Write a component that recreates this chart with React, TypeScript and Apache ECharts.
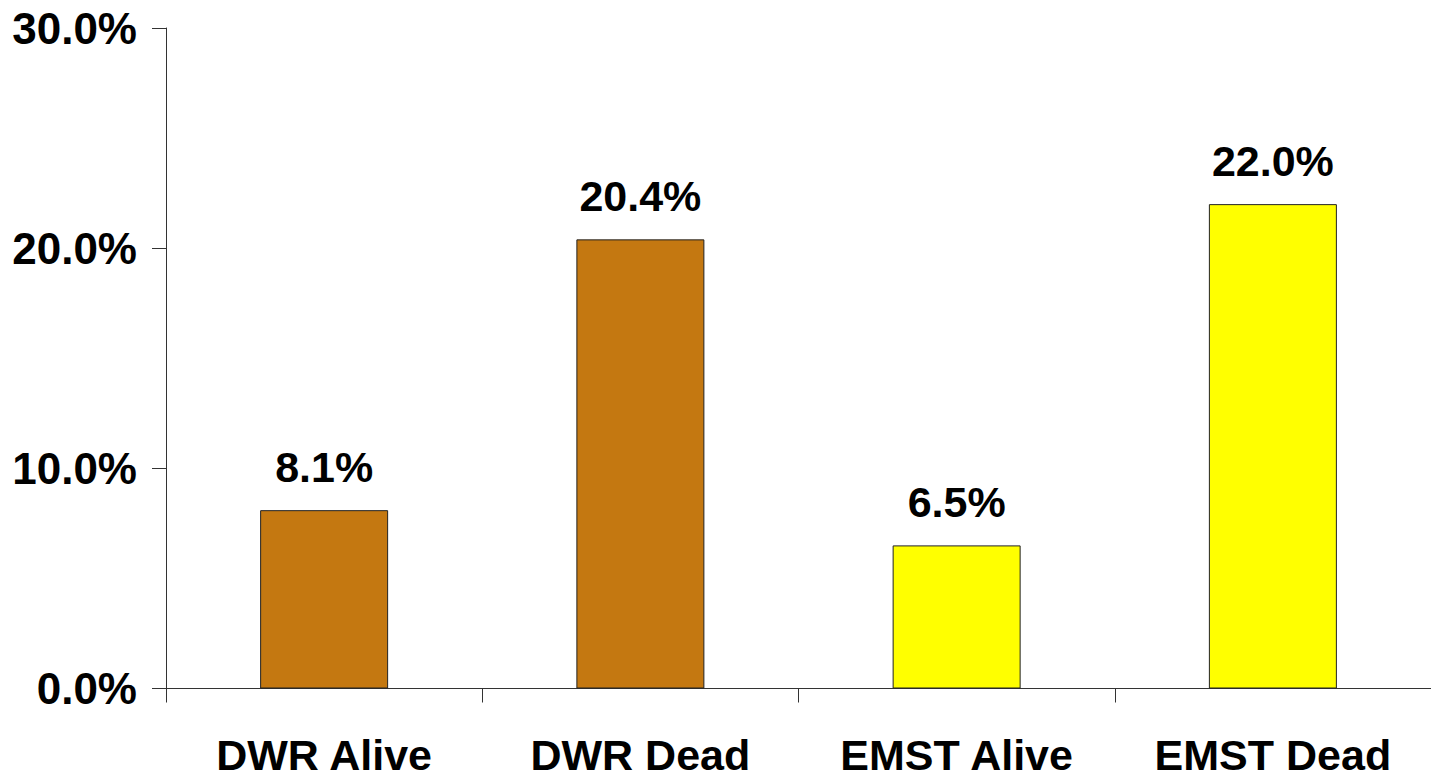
import React, { useEffect, useRef } from "react";
import * as echarts from "echarts";

const categories = ["DWR Alive", "DWR Dead", "EMST Alive", "EMST Dead"];
const rates = [8.1, 20.4, 6.5, 22.0];
const barColors = ["#C47811", "#C47811", "#FFFF00", "#FFFF00"];
const yTicks = [0, 10, 20, 30];

const FONT = "'Liberation Sans', Arial, sans-serif";

export default function App() {
  const ref = useRef<HTMLDivElement>(null);

  useEffect(() => {
    document.body.style.margin = "0";
    document.documentElement.style.overflow = "hidden";
    if (!ref.current) return;
    const chart = echarts.init(ref.current, null, { renderer: "svg" });
    chart.setOption({
      animation: false,
      backgroundColor: "#ffffff",
      grid: { left: 166, top: 28, width: 1272, height: 663, containLabel: false },
      xAxis: {
        type: "category",
        data: categories,
        boundaryGap: true,
        axisLine: { lineStyle: { color: "#333333", width: 1 } },
        axisTick: { show: true, length: 14, alignWithLabel: false, lineStyle: { color: "#333333" } },
        axisLabel: {
          interval: 0,
          margin: 51,
          lineHeight: 30,
          color: "#000000",
          fontFamily: FONT,
          fontWeight: "bold",
          fontSize: 43,
        },
      },
      yAxis: {
        type: "value",
        min: yTicks[0],
        max: yTicks[yTicks.length - 1],
        interval: 10,
        splitLine: { show: false },
        axisLine: { show: true, lineStyle: { color: "#333333", width: 1 } },
        axisTick: { show: true, length: 14, lineStyle: { color: "#333333" } },
        axisLabel: {
          margin: 29,
          color: "#000000",
          fontFamily: FONT,
          fontWeight: "bold",
          fontSize: 44,
          formatter: (v: number) => `${v.toFixed(1)}%`,
        },
      },
      series: [
        {
          type: "bar",
          barWidth: 128,
          data: rates.map((v, i) => ({
            value: v,
            itemStyle: { color: barColors[i], borderColor: "#222222", borderWidth: 1 },
          })),
          label: {
            show: true,
            position: "top",
            distance: 22,
            color: "#000000",
            fontFamily: FONT,
            fontWeight: "bold",
            fontSize: 43,
            formatter: (p: any) => `${Number(p.value).toFixed(1)}%`,
          },
        },
      ],
    });
    return () => chart.dispose();
  }, []);

  return (
    <div
      ref={ref}
      style={{ width: 1431, height: 776, overflow: "hidden", background: "#fff" }}
    />
  );
}
